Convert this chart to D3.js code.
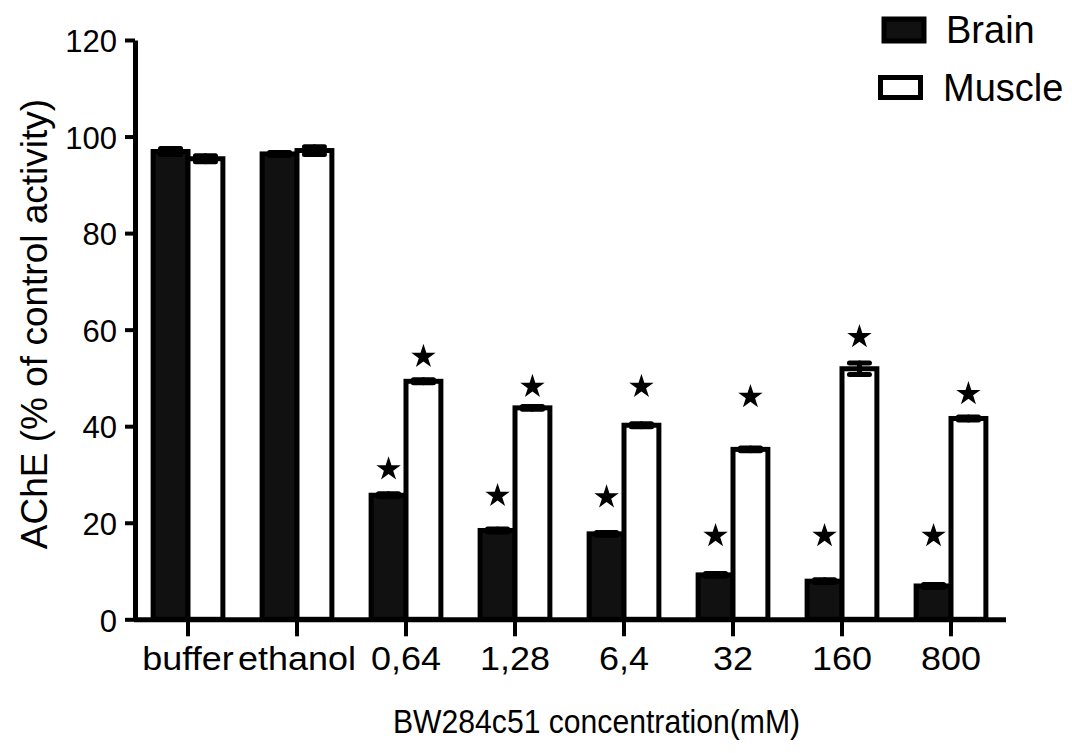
<!DOCTYPE html>
<html>
<head>
<meta charset="utf-8">
<script src="https://cdn.jsdelivr.net/npm/d3@7"></script>
<style>
  body { margin: 0; background: #fff; }
  svg { display: block; font-family: "Liberation Sans", Arial, sans-serif; }
</style>
</head>
<body>
<div class="svg-container"></div>
<script>
var width = 1072;
var height = 753;

// data
var categories = ["buffer", "ethanol", "0,64", "1,28", "6,4", "32", "160", "800"];
var series = ["Brain", "Muscle"];
var brainValues = [96.9, 96.4, 25.7, 18.4, 17.7, 9.2, 7.9, 6.9];
var brainErrors = [0.6, 0.3, 0.3, 0.3, 0.3, 0.3, 0.3, 0.3];
var muscleValues = [95.4, 97.1, 49.3, 43.8, 40.2, 35.2, 51.9, 41.6];
var muscleErrors = [0.6, 0.8, 0.3, 0.3, 0.3, 0.3, 1.2, 0.3];
// heights of the significance stars (null = no star)
var brainStars = [null, null, 31.1, 25.6, 25.3, 17.3, 17.3, 17.3];
var muscleStars = [null, null, 54.4, 48.2, 48.2, 46.1, 58.5, 46.7];
var yTicks = [0, 20, 40, 60, 80, 100, 120];

var svg = d3.select(".svg-container")
            .append("svg")
            .attr("width", width)
            .attr("height", height);

// scales
var scaleY = d3.scaleLinear()
               .domain([0, 120])
               .range([619.3, 40]);

var scaleX = d3.scaleBand()
               .domain(categories)
               .range([133.5, 1005.5])
               .paddingInner(0.36)
               .paddingOuter(0.18);

var scaleSub = d3.scaleBand()
                 .domain(series)
                 .range([0, scaleX.bandwidth()]);

var fills = { "Brain": "#111", "Muscle": "#fff" };

var rows = [];
categories.forEach(function(c, i) {
    rows.push({ cat: c, s: "Brain", v: brainValues[i], e: brainErrors[i], star: brainStars[i] });
    rows.push({ cat: c, s: "Muscle", v: muscleValues[i], e: muscleErrors[i], star: muscleStars[i] });
});

function cx(d) { return scaleX(d.cat) + scaleSub(d.s) + scaleSub.bandwidth() / 2; }

// bars
svg.append("g")
   .selectAll("rect")
   .data(rows)
   .enter()
   .append("rect")
   .attr("x", function(d) { return scaleX(d.cat) + scaleSub(d.s); })
   .attr("y", function(d) { return scaleY(d.v); })
   .attr("width", scaleSub.bandwidth())
   .attr("height", function(d) { return scaleY(0) - scaleY(d.v); })
   .attr("fill", function(d) { return fills[d.s]; })
   .attr("stroke", "#000")
   .attr("stroke-width", 5);

// error bars
var err = svg.append("g")
             .attr("stroke", "#000")
             .attr("stroke-width", 5)
             .attr("stroke-linecap", "round");

rows.forEach(function(d) {
    var x = cx(d);
    err.append("line")
       .attr("x1", x).attr("x2", x)
       .attr("y1", scaleY(d.v - d.e)).attr("y2", scaleY(d.v + d.e));
    [d.v - d.e, d.v + d.e].forEach(function(v) {
        err.append("line")
           .attr("x1", x - 10).attr("x2", x + 10)
           .attr("y1", scaleY(v)).attr("y2", scaleY(v));
    });
});

// stars
svg.append("g")
   .selectAll("path")
   .data(rows.filter(function(d) { return d.star !== null; }))
   .enter()
   .append("path")
   .attr("d", d3.symbol().type(d3.symbolStar).size(185))
   .attr("transform", function(d) { return "translate(" + cx(d) + "," + scaleY(d.star) + ")"; })
   .attr("fill", "#000");

// axes
var yAxis = svg.append("g")
               .attr("transform", "translate(135,0)")
               .call(d3.axisLeft(scaleY).tickValues(yTicks).tickSize(10).tickSizeOuter(0).tickPadding(8));

yAxis.select(".domain").attr("stroke-width", 5);
yAxis.selectAll(".tick line").attr("stroke-width", 4);
yAxis.selectAll(".tick text")
     .attr("font-size", 31)
     .attr("fill", "#000")
     .attr("dy", "0.38em");

var xAxis = svg.append("g")
               .attr("transform", "translate(0," + scaleY(0) + ")")
               .call(d3.axisBottom(scaleX).tickSize(17).tickSizeOuter(0));

xAxis.select(".domain").attr("stroke-width", 5);
xAxis.selectAll(".tick line").attr("stroke-width", 4);
xAxis.selectAll(".tick text")
     .attr("font-size", 33)
     .attr("fill", "#000")
     .attr("y", 50.7)
     .attr("dy", 0)
     .attr("transform", "scale(1.09,1)");

// axis titles
svg.append("text")
   .attr("transform", "translate(596.5,733) scale(0.9,1)")
   .attr("text-anchor", "middle")
   .attr("font-size", 33.5)
   .text("BW284c51 concentration(mM)");

svg.append("text")
   .attr("transform", "rotate(-90)")
   .attr("x", -324)
   .attr("y", 47)
   .attr("text-anchor", "middle")
   .attr("font-size", 37)
   .text("AChE (% of control activity)");

// legend
var legend = svg.append("g");
legend.append("rect")
      .attr("x", 884).attr("y", 19).attr("width", 40).attr("height", 22)
      .attr("fill", fills["Brain"]).attr("stroke", "#000").attr("stroke-width", 5);
legend.append("text")
      .attr("x", 946).attr("y", 43).attr("font-size", 38)
      .text(series[0]);
legend.append("rect")
      .attr("x", 880.5).attr("y", 77.5).attr("width", 40).attr("height", 20)
      .attr("fill", fills["Muscle"]).attr("stroke", "#000").attr("stroke-width", 5);
legend.append("text")
      .attr("x", 943).attr("y", 101).attr("font-size", 38)
      .text(series[1]);
</script>
</body>
</html>
